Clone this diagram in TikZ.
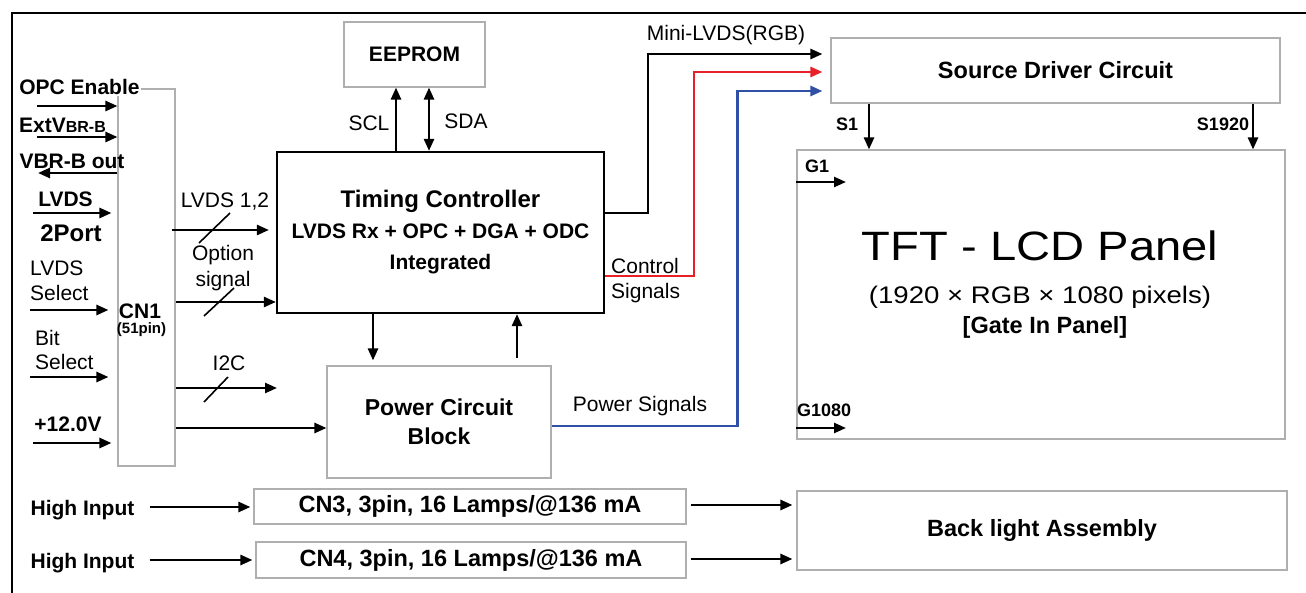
\documentclass[tikz,border=0pt]{standalone}
\usepackage{fontspec}
\setmainfont{Liberation Sans}
\usetikzlibrary{arrows.meta}
\usetikzlibrary{positioning}
\definecolor{boxgray}{RGB}{175,175,175}
\definecolor{ctlred}{RGB}{232,32,40}
\definecolor{pwrblue}{RGB}{48,80,165}

\begin{document}
\begin{tikzpicture}[x=1pt,y=-1pt,
  blk/.style={draw=boxgray,line width=1.1pt,fill=white,inner sep=0pt},
  sig/.style={line width=2.5pt,-{Triangle[length=12pt,width=10pt]}},
  bisig/.style={line width=2.5pt,{Triangle[length=12pt,width=10pt]}-{Triangle[length=12pt,width=10pt]}},
  txt/.style={font=\fontsize{21}{25}\selectfont,inner sep=0pt},
  btxt/.style={font=\bfseries\fontsize{21}{25}\selectfont,inner sep=0pt},
  stxt/.style={font=\bfseries\fontsize{18}{22}\selectfont,inner sep=0pt}]
  \useasboundingbox (0,0) rectangle (1306,593);
  \draw[line width=2pt] (12,593) -- (12,13) -- (1306,13);

  \node[blk,minimum width=57pt,minimum height=377pt] (cn1) at (146.5,277.5) {};
  \node[btxt] (cn1name) at (140,311) {CN1};
  \node[font=\bfseries\fontsize{15}{18}\selectfont,inner sep=0pt] (cn1pin) at (141.5,330) {(51pin)};
  \node[draw,line width=2.2pt,minimum width=327pt,minimum height=161pt,align=center,
    font=\bfseries\fontsize{21}{31}\selectfont] (tc) at (440.5,232.5)
    {{\fontsize{24}{31}\selectfont Timing Controller}\\LVDS Rx + OPC + DGA + ODC\\Integrated};
  \node[blk,minimum width=141pt,minimum height=65pt,font=\bfseries\fontsize{21}{25}\selectfont] (eeprom) at (414.5,54.5) {EEPROM};
  \node[blk,minimum width=224pt,minimum height=112pt,align=center,
    font=\bfseries\fontsize{23}{29}\selectfont] (power) at (439,422) {Power Circuit\\Block};
  \node[blk,minimum width=449pt,minimum height=65pt,font=\bfseries\fontsize{23.5}{28}\selectfont] (src) at (1055.5,70.5) {Source Driver Circuit};
  \node[blk,minimum width=488pt,minimum height=289pt] (tft) at (1041,294.5) {};
  \node[font=\fontsize{41}{45}\selectfont,inner sep=0pt] (tftname) at (1040,246) {\scalebox{1.15}[1]{TFT - LCD Panel}};
  \node[font=\fontsize{24}{28}\selectfont,inner sep=0pt] (tftres) at (1040,297) {\scalebox{1.15}[1]{(1920 × RGB × 1080 pixels)}};
  \node[font=\bfseries\fontsize{23.5}{28}\selectfont,inner sep=0pt] (tftgip) at (1045,327) {[Gate In Panel]};
  \node[blk,minimum width=432pt,minimum height=35pt,font=\bfseries\fontsize{23.5}{28}\selectfont] (cn3) at (470,506.5) {CN3, 3pin, 16 Lamps/@136 mA};
  \node[blk,minimum width=430pt,minimum height=36pt,font=\bfseries\fontsize{23.5}{28}\selectfont] (cn4) at (471,560) {CN4, 3pin, 16 Lamps/@136 mA};
  \node[blk,minimum width=490pt,minimum height=79pt,font=\bfseries\fontsize{23.5}{28}\selectfont] (bl) at (1042,530.5) {Back light Assembly};

  \node[btxt,fill=white,inner sep=1pt] (opc) at (79.5,87) {OPC Enable};
  \node[btxt,anchor=base west] (extv) at (19,133) {ExtV{\fontsize{16}{18}\selectfont BR-B}};
  \node[btxt] (vbr) at (72,161) {VBR-B out};
  \node[btxt] (lvdsa) at (65.5,199) {LVDS};
  \node[font=\bfseries\fontsize{24}{28}\selectfont,inner sep=0pt] (twoport) at (71,233) {2Port};
  \node[txt,align=left,anchor=west] (lvdssel) at (30,281) {LVDS\\Select};
  \node[txt,align=left,anchor=west,font=\fontsize{21}{24}\selectfont] (bitsel) at (35,350) {Bit\\Select};
  \node[btxt] (v12) at (68,424) {+12.0V};
  \node[btxt] (hi1) at (82.5,510) {High Input};
  \node[btxt] (hi2) at (82.5,563) {High Input};

  \coordinate (opcin) at (37,106);
  \coordinate (extin) at (37,137);
  \coordinate (vbrout) at (38,173);
  \coordinate (lvdsin) at (33,213);
  \coordinate (selin) at (30,310);
  \coordinate (bitin) at (30,377);
  \coordinate (pwrin) at (33,443);
  \draw[sig] (opcin) -- (opcin -| cn1.west);
  \draw[sig] (extin) -- (extin -| cn1.west);
  \draw[sig] (cn1.west |- vbrout) -- (vbrout);
  \draw[sig,shorten >=6pt] (lvdsin) -- (lvdsin -| cn1.west);
  \draw[sig,shorten >=9pt] (selin) -- (selin -| cn1.west);
  \draw[sig,shorten >=9pt] (bitin) -- (bitin -| cn1.west);
  \draw[sig,shorten >=6pt] (pwrin) -- (pwrin -| cn1.west);

  \coordinate (lvdsrow) at (0,230);
  \coordinate (optrow) at (0,302);
  \coordinate (i2cend) at (277,388);
  \coordinate (v12row) at (0,428);
  \draw[sig,shorten <=-4pt,shorten >=7pt] (cn1.east |- lvdsrow) -- (tc.west |- lvdsrow);
  \draw[sig] (cn1.east |- optrow) -- (tc.west |- optrow);
  \draw[sig] (cn1.east |- i2cend) -- (i2cend);
  \draw[sig] (cn1.east |- v12row) -- (power.west |- v12row);
  \draw[line width=1.6pt] (199,243) -- (230,213);
  \draw[line width=1.6pt] (204,316) -- (234,288);
  \draw[line width=1.6pt] (204,402) -- (228,377);
  \node[txt] (lvds12) at (225,202) {LVDS 1,2};
  \node[txt,align=center,font=\fontsize{21}{26}\selectfont] (optsig) at (223,268) {Option\\signal};
  \node[txt] (i2c) at (229,363) {I2C};

  \coordinate (sclx) at (396,0);
  \coordinate (sdax) at (429,0);
  \draw[sig] (tc.north -| sclx) -- (eeprom.south -| sclx);
  \draw[bisig] (tc.north -| sdax) -- (eeprom.south -| sdax);
  \node[txt] (scl) at (369,123) {SCL};
  \node[txt] (sda) at (466,121) {SDA};

  \coordinate (dnx) at (373,0);
  \coordinate (upx) at (517,0);
  \draw[sig,shorten >=5pt] (tc.south -| dnx) -- (power.north -| dnx);
  \draw[sig,shorten <=7pt] (power.north -| upx) -- (tc.south -| upx);

  \coordinate (minirow) at (0,213);
  \coordinate (minitop) at (0,54);
  \coordinate (ctlrow) at (0,276);
  \coordinate (ctltop) at (0,72);
  \coordinate (pwrrow) at (0,426);
  \coordinate (pwrtop) at (0,91);
  \draw[sig,shorten >=8pt] (tc.east |- minirow) -- ++(43,0) |- (src.west |- minitop);
  \draw[sig,ctlred,shorten >=8pt] (tc.east |- ctlrow) -- ++(89,0) |- (src.west |- ctltop);
  \draw[sig,pwrblue,shorten >=8pt] (power.east |- pwrrow) -- ++(186,0) |- (src.west |- pwrtop);
  \node[txt] (minilbl) at (726,35) {Mini-LVDS(RGB)};
  \node[txt,align=left,anchor=west] (ctllbl) at (611,280.5) {Control\\Signals};
  \node[txt] (pwrlbl) at (640,406) {Power Signals};

  \coordinate (s1x) at (869,0);
  \coordinate (snx) at (1253,0);
  \draw[sig] (src.south -| s1x) -- (tft.north -| s1x);
  \draw[sig] (src.south -| snx) -- (tft.north -| snx);
  \node[stxt] (s1) at (847,124) {S1};
  \node[stxt] (sn) at (1223,124) {S1920};
  \coordinate (g1end) at (846,182);
  \coordinate (gnend) at (846,428);
  \draw[sig] (tft.west |- g1end) -- (g1end);
  \draw[sig] (tft.west |- gnend) -- (gnend);
  \node[stxt,anchor=west] (g1) at (805,166) {G1};
  \node[stxt,anchor=west] (gn) at (797,410) {G1080};

  \coordinate (row3) at (0,507);
  \coordinate (row4) at (0,560);
  \draw[sig,shorten <=15pt,shorten >=3pt] (hi1.east |- row3) -- (cn3.west |- row3);
  \draw[sig,shorten <=15pt,shorten >=3pt] (hi2.east |- row4) -- (cn4.west |- row4);
  \coordinate (bl3) at (0,505);
  \coordinate (bl4) at (0,559);
  \draw[sig,shorten <=4pt,shorten >=4pt] (cn3.east |- bl3) -- (bl.west |- bl3);
  \draw[sig,shorten <=4pt,shorten >=4pt] (cn4.east |- bl4) -- (bl.west |- bl4);
\end{tikzpicture}
\end{document}
